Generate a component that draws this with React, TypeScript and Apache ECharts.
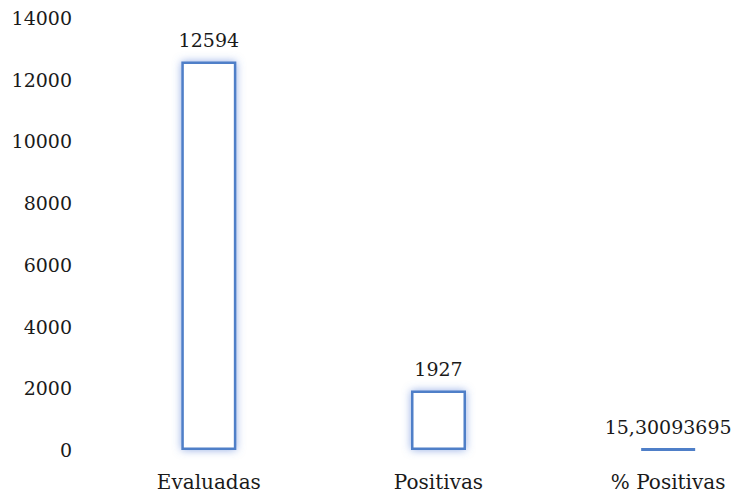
import React, { useEffect, useRef } from "react";
import * as echarts from "echarts";

const categories = ["Evaluadas", "Positivas", "% Positivas"];
const values = [12594, 1927, 15.30093695];
const yMin = 0;
const yMax = 14000;
const yInterval = 2000;

const FONT = "DejaVu Serif";

export default function App() {
  const ref = useRef<HTMLDivElement>(null);
  useEffect(() => {
    if (!ref.current) return;
    const chart = echarts.init(ref.current, null, { renderer: "svg" });
    const data = values.map((v) =>
      v < 100
        ? { value: v, itemStyle: { shadowBlur: 0, shadowColor: "transparent", borderWidth: 3 } }
        : v
    );
    chart.setOption({
      animation: false,
      backgroundColor: "#ffffff",
      grid: { left: 94, right: 0, top: 18, bottom: 47, containLabel: false },
      xAxis: {
        type: "category",
        data: categories,
        axisLine: { show: false },
        axisTick: { show: false },
        axisLabel: { fontFamily: FONT, fontSize: 20, color: "#1a1a1a", margin: 22 },
      },
      yAxis: {
        type: "value",
        min: yMin,
        max: yMax,
        interval: yInterval,
        axisLine: { show: false },
        axisTick: { show: false },
        splitLine: { show: false },
        axisLabel: {
          fontFamily: FONT,
          fontSize: 19,
          color: "#1a1a1a",
          margin: 22,
          formatter: (v: number) => String(v),
        },
      },
      series: [
        {
          type: "bar",
          data,
          barWidth: 55,
          barMinHeight: 1,
          itemStyle: {
            color: "#ffffff",
            borderColor: "#4f7fc8",
            borderWidth: 2.5,
            shadowBlur: 9,
            shadowColor: "rgba(90,130,215,0.65)",
          },
          label: {
            show: true,
            position: "top",
            distance: 12,
            fontFamily: FONT,
            fontSize: 19,
            color: "#1a1a1a",
            formatter: (p: any) =>
              Number.isInteger(p.value) ? String(p.value) : String(p.value).replace(".", ","),
          },
        },
      ],
    });
    return () => chart.dispose();
  }, []);
  return (
    <div style={{ width: 737, height: 497, position: "absolute", left: 0, top: 0, overflow: "hidden", background: "#fff" }}>
      <div ref={ref} style={{ width: 783, height: 497 }} />
    </div>
  );
}
